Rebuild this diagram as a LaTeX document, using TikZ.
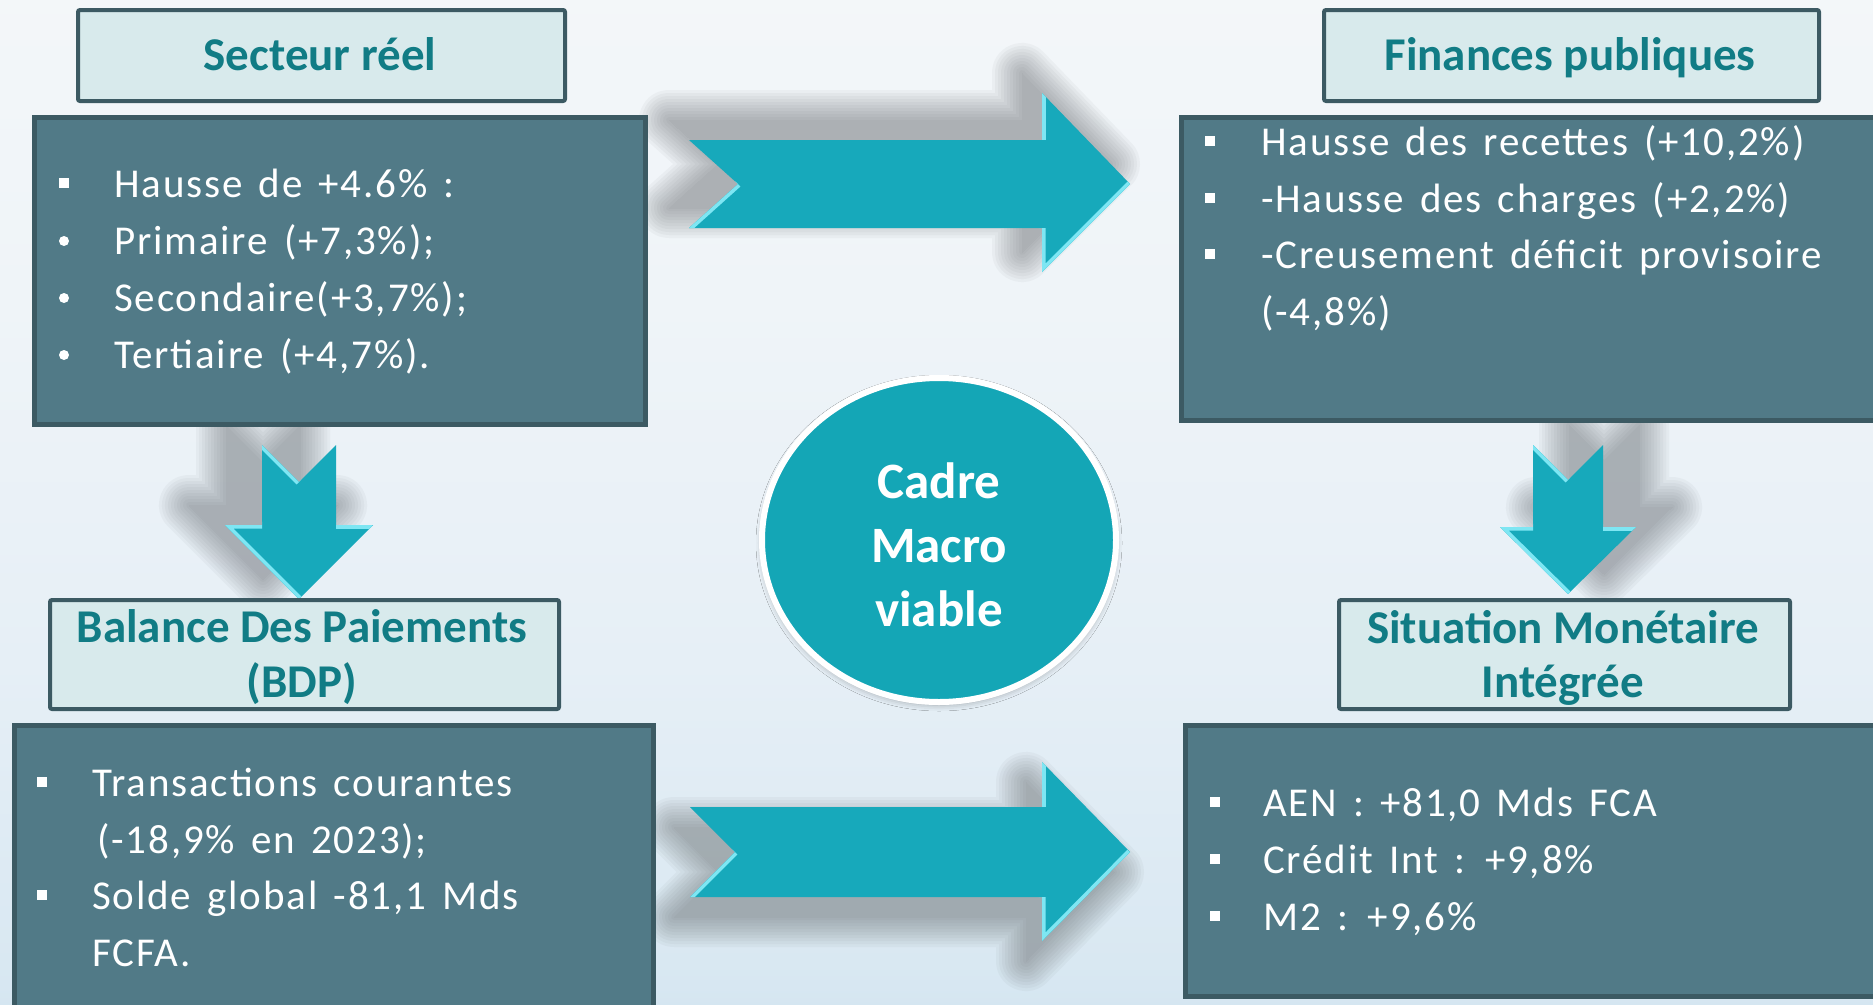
\documentclass[tikz,border=0pt]{standalone}
\usepackage{fontspec}
\setmainfont{Carlito}
\newfontfamily\bodyfont[LetterSpace=4.5,WordSpace=1.45]{Carlito}
\newfontfamily\headfont{Carlito}
\usetikzlibrary{shapes.geometric,shadows.blur}

% palette
\definecolor{bgA}{HTML}{9BCBE5}
\definecolor{bgB}{HTML}{B9D9EC}
\definecolor{bgC}{HTML}{D9E8F2}
\definecolor{bgD}{HTML}{E6EFF6}
\definecolor{bgE}{HTML}{EFF4F8}
\definecolor{bgF}{HTML}{FAFBFC}
\definecolor{boxfill}{HTML}{517A87}
\definecolor{boxedge}{HTML}{3C5A63}
\definecolor{titlefill}{HTML}{D8EAEC}
\definecolor{headteal}{HTML}{117C85}
\definecolor{arrowfill}{HTML}{17A9BB}
\definecolor{arrowlight}{HTML}{7EE6F3}
\definecolor{hubfill}{HTML}{14A6B6}
\definecolor{shadowgrey}{HTML}{5E6266}

\pgfdeclareverticalshading{backdrop}{100bp}{color(0bp)=(bgA); color(10bp)=(bgB); color(27bp)=(bgC); color(42bp)=(bgD); color(60bp)=(bgE); color(100bp)=(bgF)}

\tikzset{
  mainbox/.style={rectangle, draw=boxedge, line width=5pt, fill=boxfill, inner sep=0pt, anchor=north west},
  titlebox/.style={rectangle, draw=boxedge, line width=4pt, fill=titlefill, rounded corners=2pt, inner sep=0pt, anchor=north west},
  bodyline/.style={anchor=base west, inner sep=0pt, text=white, font=\bodyfont\fontsize{41}{48}\selectfont},
  headline/.style={anchor=base, inner sep=0pt, text=headteal, font=\headfont\bfseries\fontsize{47}{56}\selectfont},
  hubline/.style={anchor=base, inner sep=0pt, text=white, font=\headfont\bfseries\fontsize{51}{62}\selectfont},
  sqbullet/.style={rectangle, fill=white, minimum size=10pt, inner sep=0pt},
  rdbullet/.style={circle, fill=white, minimum size=10pt, inner sep=0pt},
  arrowbody/.style={fill=arrowfill},
  bevel/.style={draw=arrowlight, line width=7pt, line join=miter},
  shadowlayer/.style={fill=shadowgrey, draw=shadowgrey, line join=round, line width=#1},
}

% soft drop shadow: stacked, progressively dilated copies of a closed path,
% moved on the canvas by (#1 , #2)
\newcommand\softshadow[3]{%
  \begin{scope}[transform canvas={xshift=#1, yshift=#2}]
    \foreach \w in {60,54,...,0} {
      \begin{scope}[transparency group, opacity=0.05]
        \path[shadowlayer=\w pt] #3;
      \end{scope}
    }
  \end{scope}}

\begin{document}
\begin{tikzpicture}[x=1pt,y=-1pt]
\useasboundingbox (0,0) rectangle (1873,1004);
\begin{scope}
\clip (0,0) rectangle (1873,1004);
\shade[shading=backdrop] (0,0) rectangle (1873,1004);

% ---------- arrow outlines ----------
% top horizontal arrow
\coordinate (a1tt) at (689,140);
\coordinate (a1n)  at (738,184);
\coordinate (a1tb) at (689,228);
\coordinate (a1bb) at (1042,228);
\coordinate (a1hb) at (1042,272);
\coordinate (a1p)  at (1130,184);
\coordinate (a1ht) at (1042,93);
\coordinate (a1bt) at (1042,140);
% bottom horizontal arrow
\coordinate (a2tt) at (690,807);
\coordinate (a2n)  at (735,852);
\coordinate (a2tb) at (690,897);
\coordinate (a2bb) at (1042,897);
\coordinate (a2hb) at (1042,941);
\coordinate (a2p)  at (1130,852);
\coordinate (a2ht) at (1042,762);
\coordinate (a2bt) at (1042,807);
% left down arrow
\coordinate (d1sl) at (262,445);
\coordinate (d1n)  at (299,482);
\coordinate (d1sr) at (336,445);
\coordinate (d1br) at (336,525);
\coordinate (d1hr) at (373,525);
\coordinate (d1p)  at (299,599);
\coordinate (d1hl) at (225,525);
\coordinate (d1bl) at (262,525);
% right down arrow
\coordinate (d2sl) at (1533,445);
\coordinate (d2n)  at (1568,480);
\coordinate (d2sr) at (1603,445);
\coordinate (d2br) at (1603,527);
\coordinate (d2hr) at (1636,527);
\coordinate (d2p)  at (1568,594);
\coordinate (d2hl) at (1500,527);
\coordinate (d2bl) at (1533,527);

% ---------- shadows behind the arrows ----------
\softshadow{-20pt}{20pt}{(a1tt) -- (a1bt) -- (a1ht) -- (a1p) -- (a1hb) -- (a1bb) -- (a1tb) -- (a1n) -- cycle}
\softshadow{-16pt}{-20pt}{(a2tt) -- (a2bt) -- (a2ht) -- (a2p) -- (a2hb) -- (a2bb) -- (a2tb) -- (a2n) -- cycle}
\softshadow{-36pt}{20pt}{(d1sl) -- (d1n) -- (d1sr) -- (d1br) -- (d1hr) -- (d1p) -- (d1hl) -- (d1bl) -- cycle}
\softshadow{36pt}{20pt}{(d2sl) -- (d2n) -- (d2sr) -- (d2br) -- (d2hr) -- (d2p) -- (d2hl) -- (d2bl) -- cycle}

% ---------- arrows ----------
\fill[arrowbody] (a1tt) -- (a1bt) -- (a1ht) -- (a1p) -- (a1hb) -- (a1bb) -- (a1tb) -- (a1n) -- cycle;
\begin{scope}
  \clip (a1tt) -- (a1bt) -- (a1ht) -- (a1p) -- (a1hb) -- (a1bb) -- (a1tb) -- (a1n) -- cycle;
  \draw[bevel] (a1n) -- (a1tb);
  \draw[bevel] (a1ht) -- (a1bt);
  \draw[bevel] (a1bb) -- (a1hb) -- (a1p);
\end{scope}

\fill[arrowbody] (a2tt) -- (a2bt) -- (a2ht) -- (a2p) -- (a2hb) -- (a2bb) -- (a2tb) -- (a2n) -- cycle;
\begin{scope}
  \clip (a2tt) -- (a2bt) -- (a2ht) -- (a2p) -- (a2hb) -- (a2bb) -- (a2tb) -- (a2n) -- cycle;
  \draw[bevel] (a2n) -- (a2tb);
  \draw[bevel] (a2ht) -- (a2bt);
  \draw[bevel] (a2bb) -- (a2hb) -- (a2p);
\end{scope}

\fill[arrowbody] (d1sl) -- (d1n) -- (d1sr) -- (d1br) -- (d1hr) -- (d1p) -- (d1hl) -- (d1bl) -- cycle;
\begin{scope}
  \clip (d1sl) -- (d1n) -- (d1sr) -- (d1br) -- (d1hr) -- (d1p) -- (d1hl) -- (d1bl) -- cycle;
  \draw[bevel] (d1sl) -- (d1n);
  \draw[bevel] (d1bl) -- (d1hl) -- (d1p);
  \draw[bevel] (d1br) -- (d1hr);
\end{scope}

\fill[arrowbody] (d2sl) -- (d2n) -- (d2sr) -- (d2br) -- (d2hr) -- (d2p) -- (d2hl) -- (d2bl) -- cycle;
\begin{scope}
  \clip (d2sl) -- (d2n) -- (d2sr) -- (d2br) -- (d2hr) -- (d2p) -- (d2hl) -- (d2bl) -- cycle;
  \draw[bevel] (d2sl) -- (d2n);
  \draw[bevel] (d2bl) -- (d2hl) -- (d2p);
  \draw[bevel] (d2br) -- (d2hr);
\end{scope}

% ---------- content boxes ----------
\node[mainbox, minimum width=611pt, minimum height=307pt] (srbox)  at (32,115) {};
\node[mainbox, minimum width=720pt, minimum height=303pt] (fpbox)  at (1179,115) {};
\node[mainbox, minimum width=639pt, minimum height=330pt] (bdpbox) at (12,723) {};
\node[mainbox, minimum width=720pt, minimum height=271pt] (smibox) at (1183,723) {};

% ---------- title boxes ----------
\node[titlebox, minimum width=487pt, minimum height=91pt]  (srtitle)  at (76,8) {};
\node[titlebox, minimum width=495pt, minimum height=91pt]  (fptitle)  at (1322,8) {};
\node[titlebox, minimum width=509pt, minimum height=109pt] (bdptitle) at (48,598) {};
\node[titlebox, minimum width=451pt, minimum height=109pt] (smititle) at (1337,598) {};

\node[headline] (srhead)   at (320,70)  {Secteur réel};
\node[headline] (fphead)   at (1570,70) {Finances publiques};
\node[headline] (bdphead1) at (302,642) {Balance Des Paiements};
\node[headline] (bdphead2) at (302,697) {(BDP)};
\node[headline] (smihead1) at (1563,643) {Situation Monétaire};
\node[headline] (smihead2) at (1563,697) {Intégrée};

% ---------- Secteur réel ----------
\node[sqbullet] (srb1) at (64,183) {};
\node[rdbullet] (srb2) at (64,241) {};
\node[rdbullet] (srb3) at (64,298) {};
\node[rdbullet] (srb4) at (64,355) {};
\node[bodyline] (sr1) at (114,197) {Hausse de +4.6\% :};
\node[bodyline] (sr2) at (114,254) {Primaire (+7,3\%);};
\node[bodyline] (sr3) at (114,311) {Secondaire(+3,7\%);};
\node[bodyline] (sr4) at (114,368) {Tertiaire (+4,7\%).};

% ---------- Finances publiques ----------
\node[sqbullet] (fpb1) at (1210,141) {};
\node[sqbullet] (fpb2) at (1210,198) {};
\node[sqbullet] (fpb3) at (1210,254) {};
\node[bodyline] (fp1) at (1261,155) {Hausse des recettes (+10,2\%)};
\node[bodyline] (fp2) at (1261,212) {-Hausse des charges (+2,2\%)};
\node[bodyline] (fp3) at (1261,268) {-Creusement déficit provisoire};
\node[bodyline] (fp4) at (1261,325) {(-4,8\%)};

% ---------- Balance des paiements ----------
\node[sqbullet] (bdpb1) at (42,782) {};
\node[sqbullet] (bdpb2) at (42,895) {};
\node[bodyline] (bdp1) at (92,796) {Transactions courantes};
\node[bodyline] (bdp2) at (97,853) {(-18,9\% en 2023);};
\node[bodyline] (bdp3) at (92,909) {Solde global -81,1 Mds};
\node[bodyline] (bdp4) at (92,966) {FCFA.};

% ---------- Situation monétaire ----------
\node[sqbullet] (smib1) at (1215,802) {};
\node[sqbullet] (smib2) at (1215,859) {};
\node[sqbullet] (smib3) at (1215,916) {};
\node[bodyline] (smi1) at (1263,816) {AEN : +81,0 Mds FCA};
\node[bodyline] (smi2) at (1263,873) {Crédit Int : +9,8\%};
\node[bodyline] (smi3) at (1263,930) {M2 : +9,6\%};

% ---------- central disc ----------
\node[ellipse, minimum width=354pt, minimum height=324pt, fill=hubfill, draw=white, line width=6pt,
      blur shadow={shadow xshift=0pt, shadow yshift=-3pt, shadow blur radius=6pt, shadow opacity=30}] (hub) at (939,540) {};
\node[hubline] (hub1) at (939,498) {Cadre};
\node[hubline] (hub2) at (939,562) {Macro};
\node[hubline] (hub3) at (939,626) {viable};
\end{scope}
\end{tikzpicture}
\end{document}
